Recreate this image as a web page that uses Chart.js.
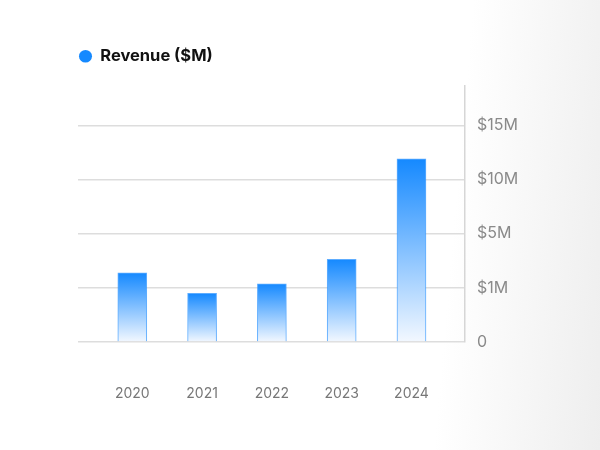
<!DOCTYPE html>
<html>
<head>
<meta charset="utf-8">
<script src="https://cdn.jsdelivr.net/npm/chart.js@4.4.0/dist/chart.umd.min.js"></script>
<style>
  html, body { margin: 0; padding: 0; }
  body {
    width: 600px;
    height: 450px;
    background: linear-gradient(95deg, #ffffff 74%, #eeeeee 100%);
  }
  #wrap { position: relative; width: 600px; height: 450px; }
</style>
</head>
<body>
<div id="wrap"><canvas id="revenueChart"></canvas></div>
<script>
const years = ["2020", "2021", "2022", "2023", "2024"];
const revenue = [2.1, 0.9, 1.3, 3.1, 11.9]; // $M
const tickValues = [0, 1, 5, 10, 15];
const tickLabels = ["0", "$1M", "$5M", "$10M", "$15M"];

// the y axis spaces its uneven tick values evenly, so map $M onto tick steps
function toStep(v) {
  for (let i = 1; i < tickValues.length; i++) {
    if (v <= tickValues[i]) {
      const lo = tickValues[i - 1], hi = tickValues[i];
      return i - 1 + (v - lo) / (hi - lo);
    }
  }
  return tickValues.length - 1;
}

Chart.defaults.font.family = "Inter, 'DejaVu Sans', sans-serif";

const ctx = document.getElementById("revenueChart").getContext("2d");

new Chart(ctx, {
  type: "bar",
  data: {
    datasets: [
      {
        label: "Revenue ($M)",
        data: revenue.map((v, i) => ({ x: i, y: toStep(v) })),
        backgroundColor: function (c) {
          const chart = c.chart;
          if (c.type !== "data" || !chart.chartArea) return "#1589ff";
          const y = chart.scales.y;
          const top = y.getPixelForValue(c.raw.y);
          const bottom = y.getPixelForValue(0);
          const g = chart.ctx.createLinearGradient(0, top, 0, bottom);
          g.addColorStop(0, "#1589ff");
          g.addColorStop(1, "#f3f8ff");
          return g;
        },
        borderColor: "rgba(40, 145, 255, 0.75)",
        borderWidth: 1,
        borderSkipped: "bottom",
        barThickness: 29,
      },
    ],
  },
  options: {
    responsive: true,
    maintainAspectRatio: false,
    animation: false,
    layout: {
      padding: { left: 69, top: 38, right: 0, bottom: 0 },
    },
    plugins: {
      legend: {
        display: true,
        position: "top",
        align: "start",
        labels: {
          usePointStyle: true,
          pointStyleWidth: 13,
          boxHeight: 9,
          padding: 10,
          color: "#111",
          font: { size: 16.5, weight: "bold" },
          generateLabels: function (chart) {
            return chart.data.datasets.map((ds, i) => ({
              text: ds.label,
              fillStyle: "#1589ff",
              strokeStyle: "#1589ff",
              lineWidth: 0,
              pointStyle: "circle",
              fontColor: "#111",
              datasetIndex: i,
            }));
          },
        },
      },
      tooltip: { enabled: false },
    },
    scales: {
      x: {
        type: "linear",
        position: "bottom",
        offset: false,
        min: -0.778,
        max: 4.767,
        afterBuildTicks: (s) => {
          s.ticks = years.map((_, i) => ({ value: i }));
        },
        afterFit: (s) => {
          s.height = 108;
        },
        ticks: {
          callback: (v) => years[v] ?? "",
          color: "#777",
          font: { size: 14 },
          padding: 43,
          maxRotation: 0,
        },
        grid: { display: false, drawTicks: false, offset: false },
        border: { display: false },
      },
      y: {
        type: "linear",
        position: "right",
        min: 0,
        max: 4.736,
        afterBuildTicks: (s) => {
          s.ticks = tickValues.map((_, i) => ({ value: i }));
        },
        afterFit: (s) => {
          s.width = 135;
        },
        ticks: {
          callback: (v) => tickLabels[v] ?? "",
          color: "#8a8a8a",
          font: { size: 16 },
          padding: 12,
        },
        grid: { color: "#dddddd", lineWidth: 1.5, drawTicks: false },
        border: { display: true, color: "#d6d6d6", width: 1.5 },
      },
      // spacers that push the plot area to where the reference has it
      padLeft: {
        type: "linear",
        position: "left",
        display: true,
        ticks: { display: false },
        grid: { display: false, drawTicks: false },
        border: { display: false },
        afterFit: (s) => {
          s.width = 9;
        },
      },
      padTop: {
        type: "linear",
        position: "top",
        display: true,
        ticks: { display: false },
        grid: { display: false, drawTicks: false },
        border: { display: false },
        afterFit: (s) => {
          s.height = 11;
        },
      },
    },
  },
});
</script>
</body>
</html>
